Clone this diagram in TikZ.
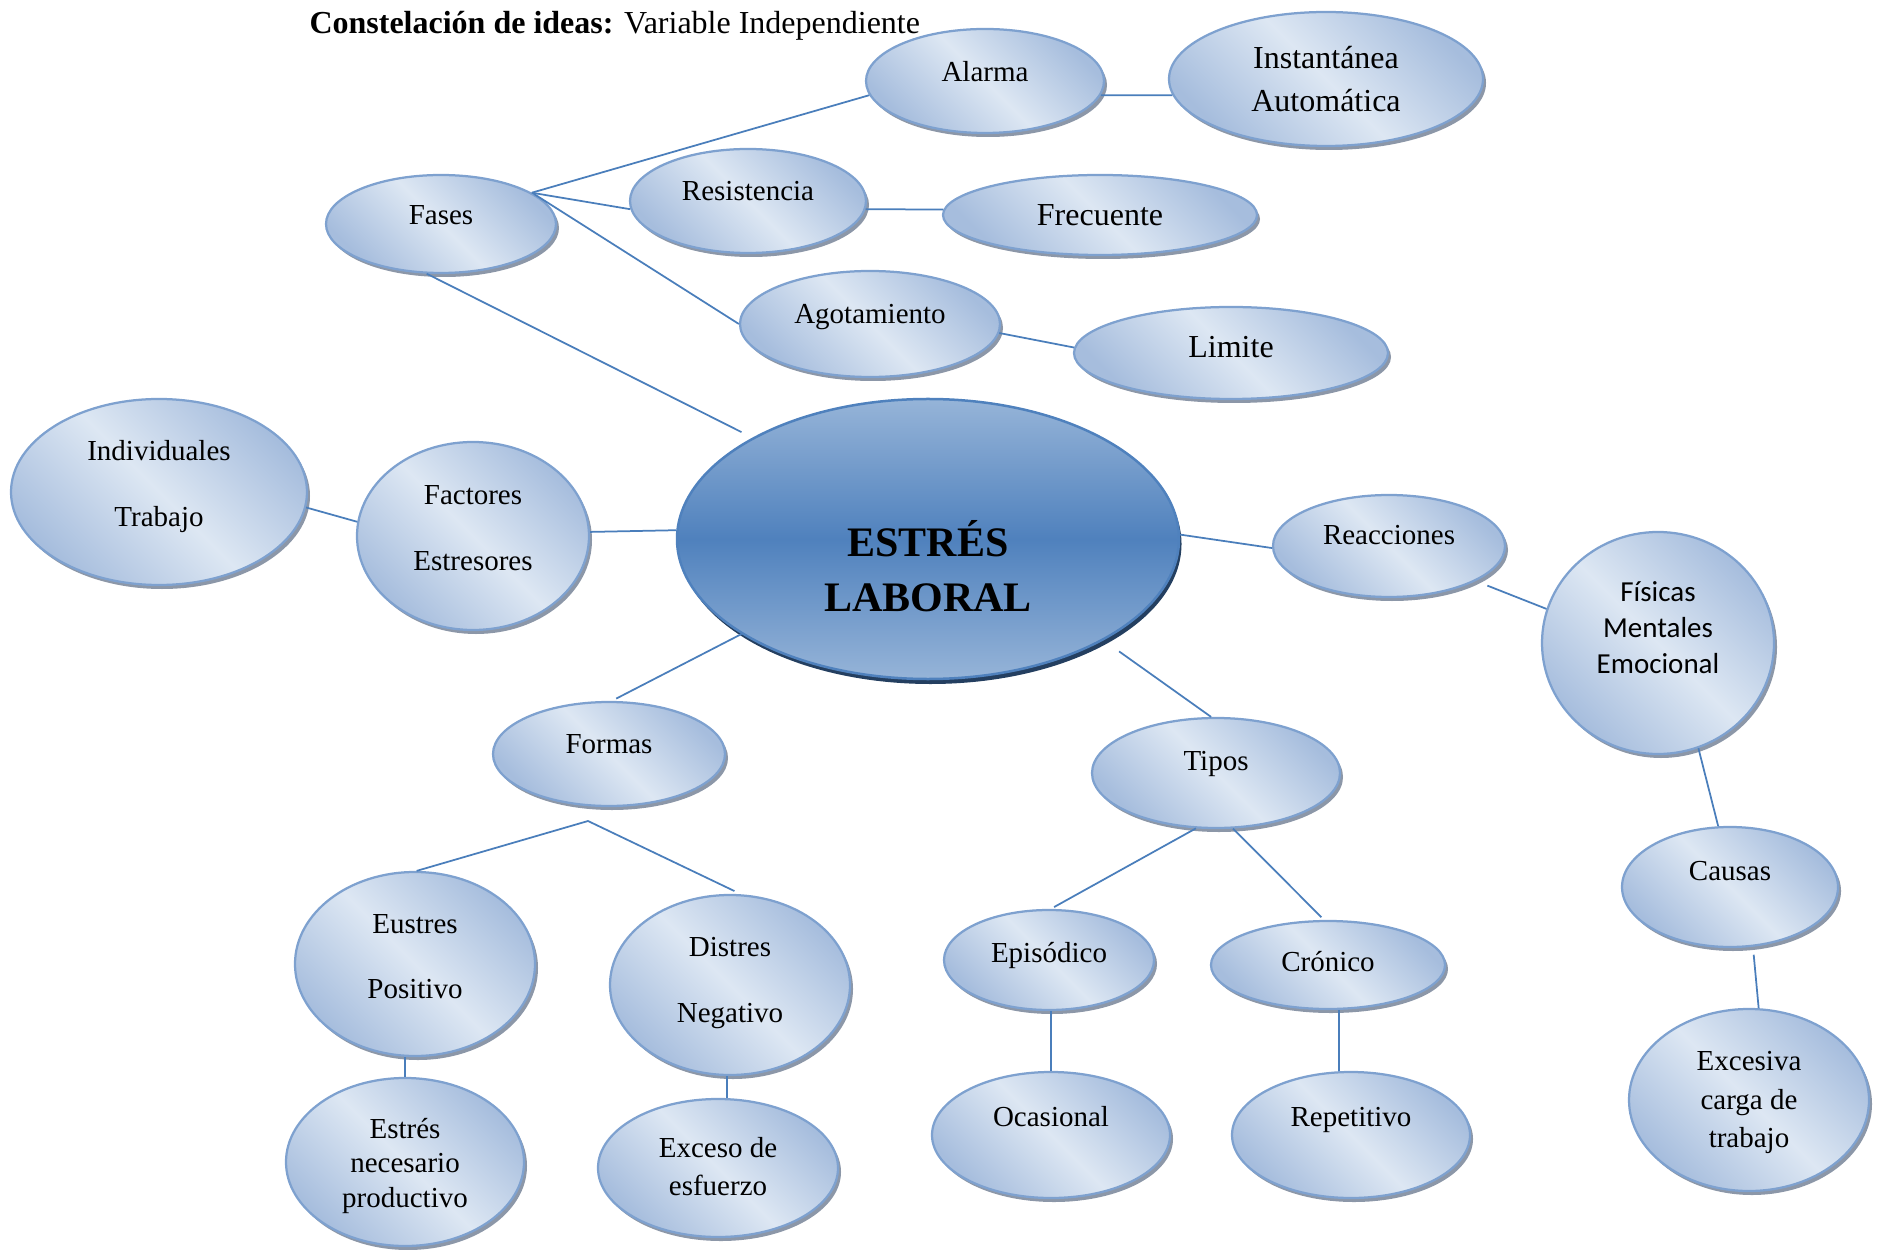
\documentclass[tikz,border=0pt]{standalone}
\usepackage{fontspec}
\setmainfont{Liberation Serif}
\newfontfamily\calibfont{Carlito}
\usetikzlibrary{shapes.geometric,shadows,calc}
\definecolor{bubdark}{RGB}{166,189,221}
\definecolor{bublight}{RGB}{221,231,243}
\definecolor{bubline}{RGB}{126,161,207}
\definecolor{bubshadow}{RGB}{128,140,158}
\definecolor{cdark}{RGB}{79,129,189}
\definecolor{clight}{RGB}{150,180,216}
\definecolor{cshadow}{RGB}{36,63,96}
\definecolor{conn}{RGB}{74,126,187}
\begin{document}
\begin{tikzpicture}[x=0.4pt,y=-0.4pt,
  bub/.style={ellipse, draw=bubline, line width=0.9pt,
    top color=bubdark, bottom color=bubdark, middle color=bublight, shading angle=-45,
    inner sep=0pt,
    drop shadow={shadow xshift=1.2pt, shadow yshift=-1.6pt, fill=bubshadow, opacity=0.9}},
  core/.style={ellipse, draw=cdark, line width=1pt,
    top color=clight, bottom color=clight, middle color=cdark,
    inner sep=0pt,
    drop shadow={shadow xshift=1pt, shadow yshift=-2pt, fill=cshadow, opacity=1}},
  sz/.style 2 args={minimum width={#1*0.8pt}, minimum height={#2*0.8pt}},
  txt/.style={font=\fontsize{11.6}{14}\selectfont, align=center, text=black, inner sep=0pt},
  txtb/.style={font=\fontsize{12.8}{17.2}\selectfont, align=center, text=black, inner sep=0pt},
  link/.style={draw=conn, line width=0.7pt},
]
\useasboundingbox (0,0) rectangle (1877,1250);

% title
\node[anchor=west, inner sep=0pt, font=\fontsize{12.8}{15}\selectfont] (title) at (309,26)
  {\textbf{Constelación de ideas:} Variable Independiente};

% nodes
\node[bub, sz={119}{52}, label={[txt, yshift=3.8pt]center:Alarma}] (alarma) at (985,81) {};
\node[bub, sz={157}{67}, label={[txtb]center:Instantánea\\Automática}] (inst) at (1326,79) {};
\node[bub, sz={115}{49}, label={[txt, yshift=3.4pt]center:Fases}] (fases) at (441,224) {};
\node[bub, sz={118}{52}, label={[txt, yshift=3.8pt]center:Resistencia}] (resist) at (748,201) {};
\node[bub, sz={157}{40}, label={[txtb]center:Frecuente}] (frec) at (1100,215) {};
\node[bub, sz={130}{53}, label={[txt, yshift=2.7pt]center:Agotamiento}] (agot) at (870,324) {};
\node[bub, sz={157}{46}, label={[txtb, yshift=2.4pt]center:Limite}] (limite) at (1231,353) {};
\node[bub, sz={148}{93}, label={[txt, font=\fontsize{11.6}{26.4}\selectfont, yshift=2.1pt]center:Individuales\\Trabajo}] (indiv) at (159,492) {};
\node[bub, sz={116}{94}, label={[txt, font=\fontsize{11.6}{26.4}\selectfont, yshift=3.1pt]center:Factores\\Estresores}] (factores) at (473,536) {};
\node[core, sz={251}{140}, label={[txt, font=\bfseries\fontsize{16.8}{22}\selectfont, yshift=-10.8pt]center:ESTRÉS\\LABORAL}] (estres) at (928,539) {};
\node[bub, sz={116}{51}, label={[txt, yshift=4.3pt]center:Reacciones}] (reacc) at (1389,546) {};
\node[bub, sz={116}{111}, label={[txt, font=\calibfont\fontsize{11.6}{14.4}\selectfont, yshift=6.2pt]center:Físicas\\Mentales\\Emocional}] (fisicas) at (1658,643) {};
\node[bub, sz={116}{52}, label={[txt, yshift=3.8pt]center:Formas}] (formas) at (609,754) {};
\node[bub, sz={124}{55}, label={[txt, yshift=3.8pt]center:Tipos}] (tipos) at (1216,773) {};
\node[bub, sz={108}{60}, label={[txt, yshift=6.2pt]center:Causas}] (causas) at (1730,887) {};
\node[bub, sz={120}{92}, label={[txt, font=\fontsize{11.6}{25.9}\selectfont, yshift=2.9pt]center:Eustres\\Positivo}] (eustres) at (415,964) {};
\node[bub, sz={120}{90}, label={[txt, font=\fontsize{11.6}{26.3}\selectfont, yshift=0.8pt]center:Distres\\Negativo}] (distres) at (730,985) {};
\node[bub, sz={105}{50}, label={[txt, yshift=2pt]center:Episódico}] (episod) at (1049,960) {};
\node[bub, sz={117}{44}, label={[txt, yshift=1.4pt]center:Crónico}] (cronico) at (1328,965) {};
\node[bub, sz={120}{91}, label={[txt, font=\fontsize{11.6}{15.3}\selectfont, yshift=-1pt]center:Excesiva\\carga de\\trabajo}] (excesiva) at (1749,1100) {};
\node[bub, sz={119}{84}, label={[txt, font=\fontsize{11.6}{13.7}\selectfont, yshift=-1.5pt]center:Estrés\\necesario\\productivo}] (nec) at (405,1162) {};
\node[bub, sz={120}{69}, label={[txt, font=\fontsize{11.6}{15.3}\selectfont, yshift=0.5pt]center:Exceso de\\esfuerzo}] (exceso) at (718,1168) {};
\node[bub, sz={119}{63}, label={[txt, yshift=7.2pt]center:Ocasional}] (ocas) at (1051,1135) {};
\node[bub, sz={119}{63}, label={[txt, yshift=6.2pt]center:Repetitivo}] (repet) at (1351,1135) {};

% connectors
\draw[link] (fases.19) -- (alarma.187);
\draw[link] (fases.19) -- (resist.184);
\draw[link] (fases.18) -- (agot.180);
\draw[link, shorten >=4.9pt] (fases.254) -- (estres.150);
\draw[link] (alarma.353) -- (inst.186);
\draw[link] (resist.356) -- (frec.178);
\draw[link] (agot.356) -- (limite.178);
\draw[link] (indiv.354) -- (factores.173);
\draw[link] (factores.2) -- (estres.178);
\draw[link] (estres.1) -- (reacc.181);
\draw[link, shorten <=5pt] (reacc.338) -- (fisicas.163);
\draw[link] (fisicas.291) -- (causas.101);
\draw[link, shorten <=3.2pt] (causas.291) -- (excesiva.84);
\draw[link, shorten >=2pt] (estres.207) -- (formas.87);
\coordinate (fork) at (588,821);
\draw[link, shorten >=3pt] (eustres.89) -- (fork) -- (distres.83);
\draw[link] (nec.north) -- (nec.north |- eustres.south);
\draw[link] (distres.268) -- (distres.268 |- exceso.north);
\draw[link, shorten <=7.6pt] (estres.330) -- (tipos.95);
\draw[link, shorten >=1.5pt] (tipos.250) -- (episod.88);
\draw[link, shorten >=1.5pt] (tipos.287) -- (cronico.95);
\draw[link] (ocas.north) -- (ocas.north |- episod.south);
\draw[link] (cronico.284) -- (cronico.284 |- repet.north);
\end{tikzpicture}
\end{document}
